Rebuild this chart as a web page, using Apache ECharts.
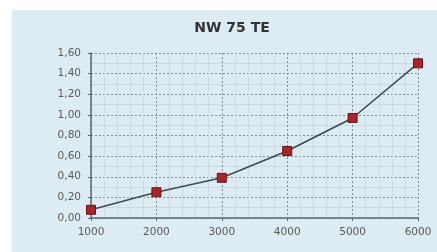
<!DOCTYPE html>
<html><head><meta charset="utf-8">
<script src="https://cdn.jsdelivr.net/npm/echarts@6/dist/echarts.min.js"></script>
<style>html,body{margin:0;padding:0;background:#fff;}#c{width:437px;height:252px;}</style>
</head><body><div id="c"></div>
<script>
const title = "NW 75 TE";
const xValues = [1000, 2000, 3000, 4000, 5000, 6000];
const yValues = [0.08, 0.25, 0.39, 0.65, 0.97, 1.50];

const chart = echarts.init(document.getElementById('c'), null, {renderer: 'canvas'});
chart.setOption({
  animation: false,
  backgroundColor: '#ffffff',
  graphic: [{type: 'rect', left: 12, top: 10, shape: {width: 425, height: 242}, style: {fill: '#ddecf3'}, z: -10}],
  title: {text: title, left: 227, textAlign: 'center', top: 16, textStyle: {fontFamily: 'DejaVu Sans', fontSize: 14, fontWeight: 'bold', color: '#333333'}},
  grid: {left: 91, right: 19, top: 53, bottom: 34},
  xAxis: {
    type: 'value', min: 1000, max: 6000, interval: 1000,
    axisLine: {show: true, lineStyle: {color: '#5a6a70', width: 1.5}},
    axisTick: {show: true, length: 3, lineStyle: {color: '#5a6a70'}},
    axisLabel: {color: '#5a5a5a', fontSize: 10.5, fontFamily: 'DejaVu Sans', margin: 9,
      formatter: v => String(v)},
    splitLine: {show: true, lineStyle: {color: '#7f9096', type: [2, 2], width: 1}},
    minorTick: {show: true, splitNumber: 5, length: 0},
    minorSplitLine: {show: true, lineStyle: {color: '#cadbe2', width: 1}}
  },
  yAxis: {
    type: 'value', min: 0, max: 1.6, interval: 0.2,
    axisLine: {show: true, lineStyle: {color: '#5a6a70', width: 1.5}},
    axisTick: {show: true, length: 3, lineStyle: {color: '#5a6a70'}},
    axisLabel: {color: '#5a5a5a', fontSize: 10.5, fontFamily: 'DejaVu Sans', margin: 10,
      formatter: v => v.toFixed(2).replace('.', ',')},
    splitLine: {show: true, lineStyle: {color: '#7f9096', type: [2, 2], width: 1}},
    minorTick: {show: true, splitNumber: 2, length: 0},
    minorSplitLine: {show: true, lineStyle: {color: '#cadbe2', width: 1}}
  },
  series: [{
    type: 'line',
    data: xValues.map((x, i) => [x, yValues[i]]),
    symbol: 'rect', symbolSize: 9,
    lineStyle: {color: '#3e4a50', width: 1.5},
    itemStyle: {color: '#a8232a', borderColor: '#6a1418', borderWidth: 1}
  }]
});
</script></body></html>
